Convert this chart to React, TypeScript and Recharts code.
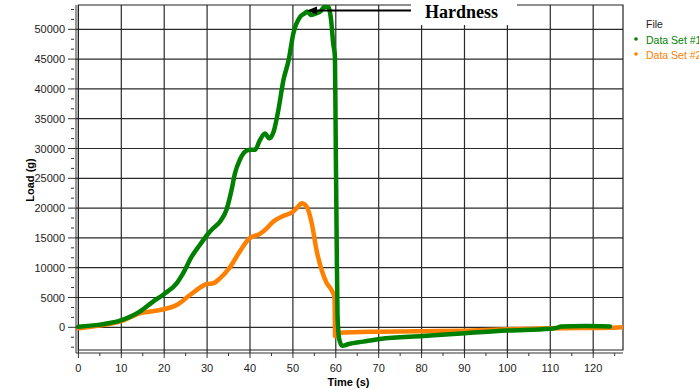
import React from "react";
import { LineChart, Line, XAxis, YAxis, CartesianGrid, ReferenceArea } from "recharts";

// Data Set #1 (green) - time in s, load in g
const set1Time = [
  0, 5, 9.7, 14.3, 17.4, 20, 22.9, 24.4, 26.4, 28.3, 30, 31.4, 33, 34.5, 35.7,
  36.5, 37.6, 39.6, 41.2, 42.3, 43.5, 44.5, 45.5, 46.6, 47.8, 49, 50.1, 51.7,
  52.8, 53.3, 54.3, 55.5, 56.4, 57.4, 58.2, 58.9, 59.4, 59.8, 60.0, 60.2, 60.4,
  60.8, 61.5, 63, 66.4, 70.3, 80.4, 90.1, 99.8, 109.9, 111.5, 112.5, 118, 123.9,
];
const set1Load = [
  100, 450, 1110, 2620, 4300, 5590, 7380, 9060, 11850, 13810, 15490, 16610,
  17720, 19680, 23040, 25840, 28070, 29750, 29800, 31400, 32500, 31700, 32800,
  36400, 41500, 44800, 49300, 52100, 52700, 53000, 52400, 52700, 53000, 53800,
  53800, 51600, 47600, 45400, 30000, 15000, 2000, -2000, -3100, -2800, -2400,
  -1950, -1450, -1000, -550, -250, -100, 150, 200, 150,
];

// Data Set #2 (orange)
const set2Time = [
  0, 5, 9.7, 14.3, 19, 22.9, 26, 30, 31.4, 33, 35.3, 37.6, 39.9, 42.3, 43.9,
  45.4, 47.7, 50, 51.2, 52, 53.2, 54.4, 55.5, 56.7, 57.9, 59, 59.7, 59.85, 60.7,
  70.3, 80, 89.7, 99.8, 109.9, 124.6, 126.9,
];
const set2Load = [
  -170, 300, 940, 2350, 2900, 3740, 5420, 7270, 7380, 8220, 10050, 12700, 14930,
  15660, 16610, 17720, 18680, 19400, 20240, 20800, 20240, 17450, 12970, 9620,
  7380, 6260, 5000, -1500, -900, -730, -650, -560, -340, -170, -60, 0,
];

const xGridValues = [0, 10, 20, 30, 40, 50, 60, 70, 80, 90, 100, 110, 120];
const xTicks = [0, 5, 10, 15, 20, 25, 30, 35, 40, 45, 50, 55, 60, 65, 70, 75, 80, 85, 90, 95, 100, 105, 110, 115, 120, 125];
const yGridValues = [0, 5000, 10000, 15000, 20000, 25000, 30000, 35000, 40000, 45000, 50000];
// minor ticks every third of 5000
const yTicks = Array.from({ length: 35 }, (_, i) => ((i - 2) * 5000) / 3);

const series1 = set1Time.map((t, i) => ({ t, load: set1Load[i] }));
const series2 = set2Time.map((t, i) => ({ t, load: set2Load[i] }));

const GREEN = "#008000";
const ORANGE = "#ff8000";
const AXIS = "#333";
const FONT = "'Liberation Sans', Arial, sans-serif";

const YTick = (props: any) => {
  const { x, y, payload } = props;
  const v = Math.round(payload.value);
  const major = v >= 0 && v % 5000 === 0;
  return (
    <g>
      <line x1={major ? x - 8 : x - 5} x2={major ? x : x - 2} y1={y} y2={y} stroke={AXIS} />
      {major && (
        <text x={x - 11} y={y + 4} textAnchor="end" fontSize={11} fontFamily={FONT} fill="#222">
          {v}
        </text>
      )}
    </g>
  );
};

const XTick = (props: any) => {
  const { x, y, payload } = props;
  const v = payload.value;
  const major = v % 10 === 0;
  return (
    <g>
      <line x1={x} x2={x} y1={y} y2={y + (major ? 5 : 3)} stroke={AXIS} />
      {major && (
        <text x={x} y={y + 19} textAnchor="middle" fontSize={11} fontFamily={FONT} fill="#222">
          {v}
        </text>
      )}
    </g>
  );
};

const YLabel = (props: any) => {
  const vb = props.viewBox;
  const cx = vb.x + 30;
  const cy = vb.y + vb.height / 2 + 1;
  return (
    <text
      x={cx}
      y={cy}
      transform={`rotate(-90 ${cx} ${cy})`}
      textAnchor="middle"
      dominantBaseline="central"
      fontSize={11}
      fontWeight="bold"
      fontFamily={FONT}
      fill="#000"
    >
      Load (g)
    </text>
  );
};

const XLabel = (props: any) => {
  const vb = props.viewBox;
  return (
    <text
      x={vb.x + vb.width / 2 - 1}
      y={vb.y + 33}
      textAnchor="middle"
      fontSize={11}
      fontWeight="bold"
      fontFamily={FONT}
      fill="#000"
    >
      Time (s)
    </text>
  );
};

export default function App() {
  return (
    <div style={{ position: "absolute", left: 0, top: 0, width: 699, height: 390, background: "#fff" }}>
      <LineChart width={699} height={390} margin={{ top: 5, right: 76, left: 0, bottom: 0 }}>
        <CartesianGrid
          horizontalValues={yGridValues}
          verticalValues={xGridValues}
          stroke="#2a2a2a"
          strokeWidth={1.2}
        />
        <XAxis
          type="number"
          dataKey="t"
          domain={[-0.56, 126.95]}
          allowDataOverflow
          ticks={xTicks}
          interval={0}
          height={37}
          tickSize={0}
          tickMargin={0}
          tickLine={false}
          tick={XTick}
          axisLine={{ stroke: AXIS }}
          label={XLabel}
        />
        <YAxis
          type="number"
          dataKey="load"
          domain={[-4312, 54082]}
          allowDataOverflow
          ticks={yTicks}
          interval={0}
          width={76}
          tickSize={0}
          tickMargin={0}
          tickLine={false}
          tick={YTick}
          axisLine={{ stroke: AXIS }}
          label={YLabel}
        />
        <ReferenceArea x1={0} x2={126.95} y1={-3810} y2={54082} fill="none" stroke="#222" strokeWidth={1.2} />
        <Line
          data={series2}
          dataKey="load"
          type="monotone"
          stroke={ORANGE}
          strokeWidth={4.5}
          strokeLinejoin="round"
          strokeLinecap="round"
          dot={false}
          activeDot={false}
          isAnimationActive={false}
          name="Data Set #2"
        />
        <Line
          data={series1}
          dataKey="load"
          type="monotone"
          stroke={GREEN}
          strokeWidth={4.5}
          strokeLinejoin="round"
          strokeLinecap="round"
          dot={false}
          activeDot={false}
          isAnimationActive={false}
          name="Data Set #1"
        />
      </LineChart>

      {/* annotation + legend overlay */}
      <svg
        width={699}
        height={390}
        style={{ position: "absolute", left: 0, top: 0, pointerEvents: "none" }}
      >
        <rect x={411} y={0} width={106} height={25} fill="#fff" />
        <line x1={411} x2={314} y1={10.5} y2={10.5} stroke="#000" strokeWidth={2} />
        <polygon points="307,10.5 317,6.5 317,14.5" fill="#000" />
        <text x={425} y={18} fontSize={18} fontWeight="bold" fontFamily="'Liberation Serif', 'Times New Roman', serif" fill="#000">
          Hardness
        </text>

        <text x={646} y={28} fontSize={10.5} fontFamily={FONT} fill="#222">File</text>
        <circle cx={636} cy={39} r={1.8} fill={GREEN} />
        <text x={646} y={44} fontSize={10.5} fontFamily={FONT} fill={GREEN}>Data Set #1</text>
        <circle cx={636} cy={54} r={1.8} fill={ORANGE} />
        <text x={646} y={59} fontSize={10.5} fontFamily={FONT} fill={ORANGE}>Data Set #2</text>
      </svg>
    </div>
  );
}
